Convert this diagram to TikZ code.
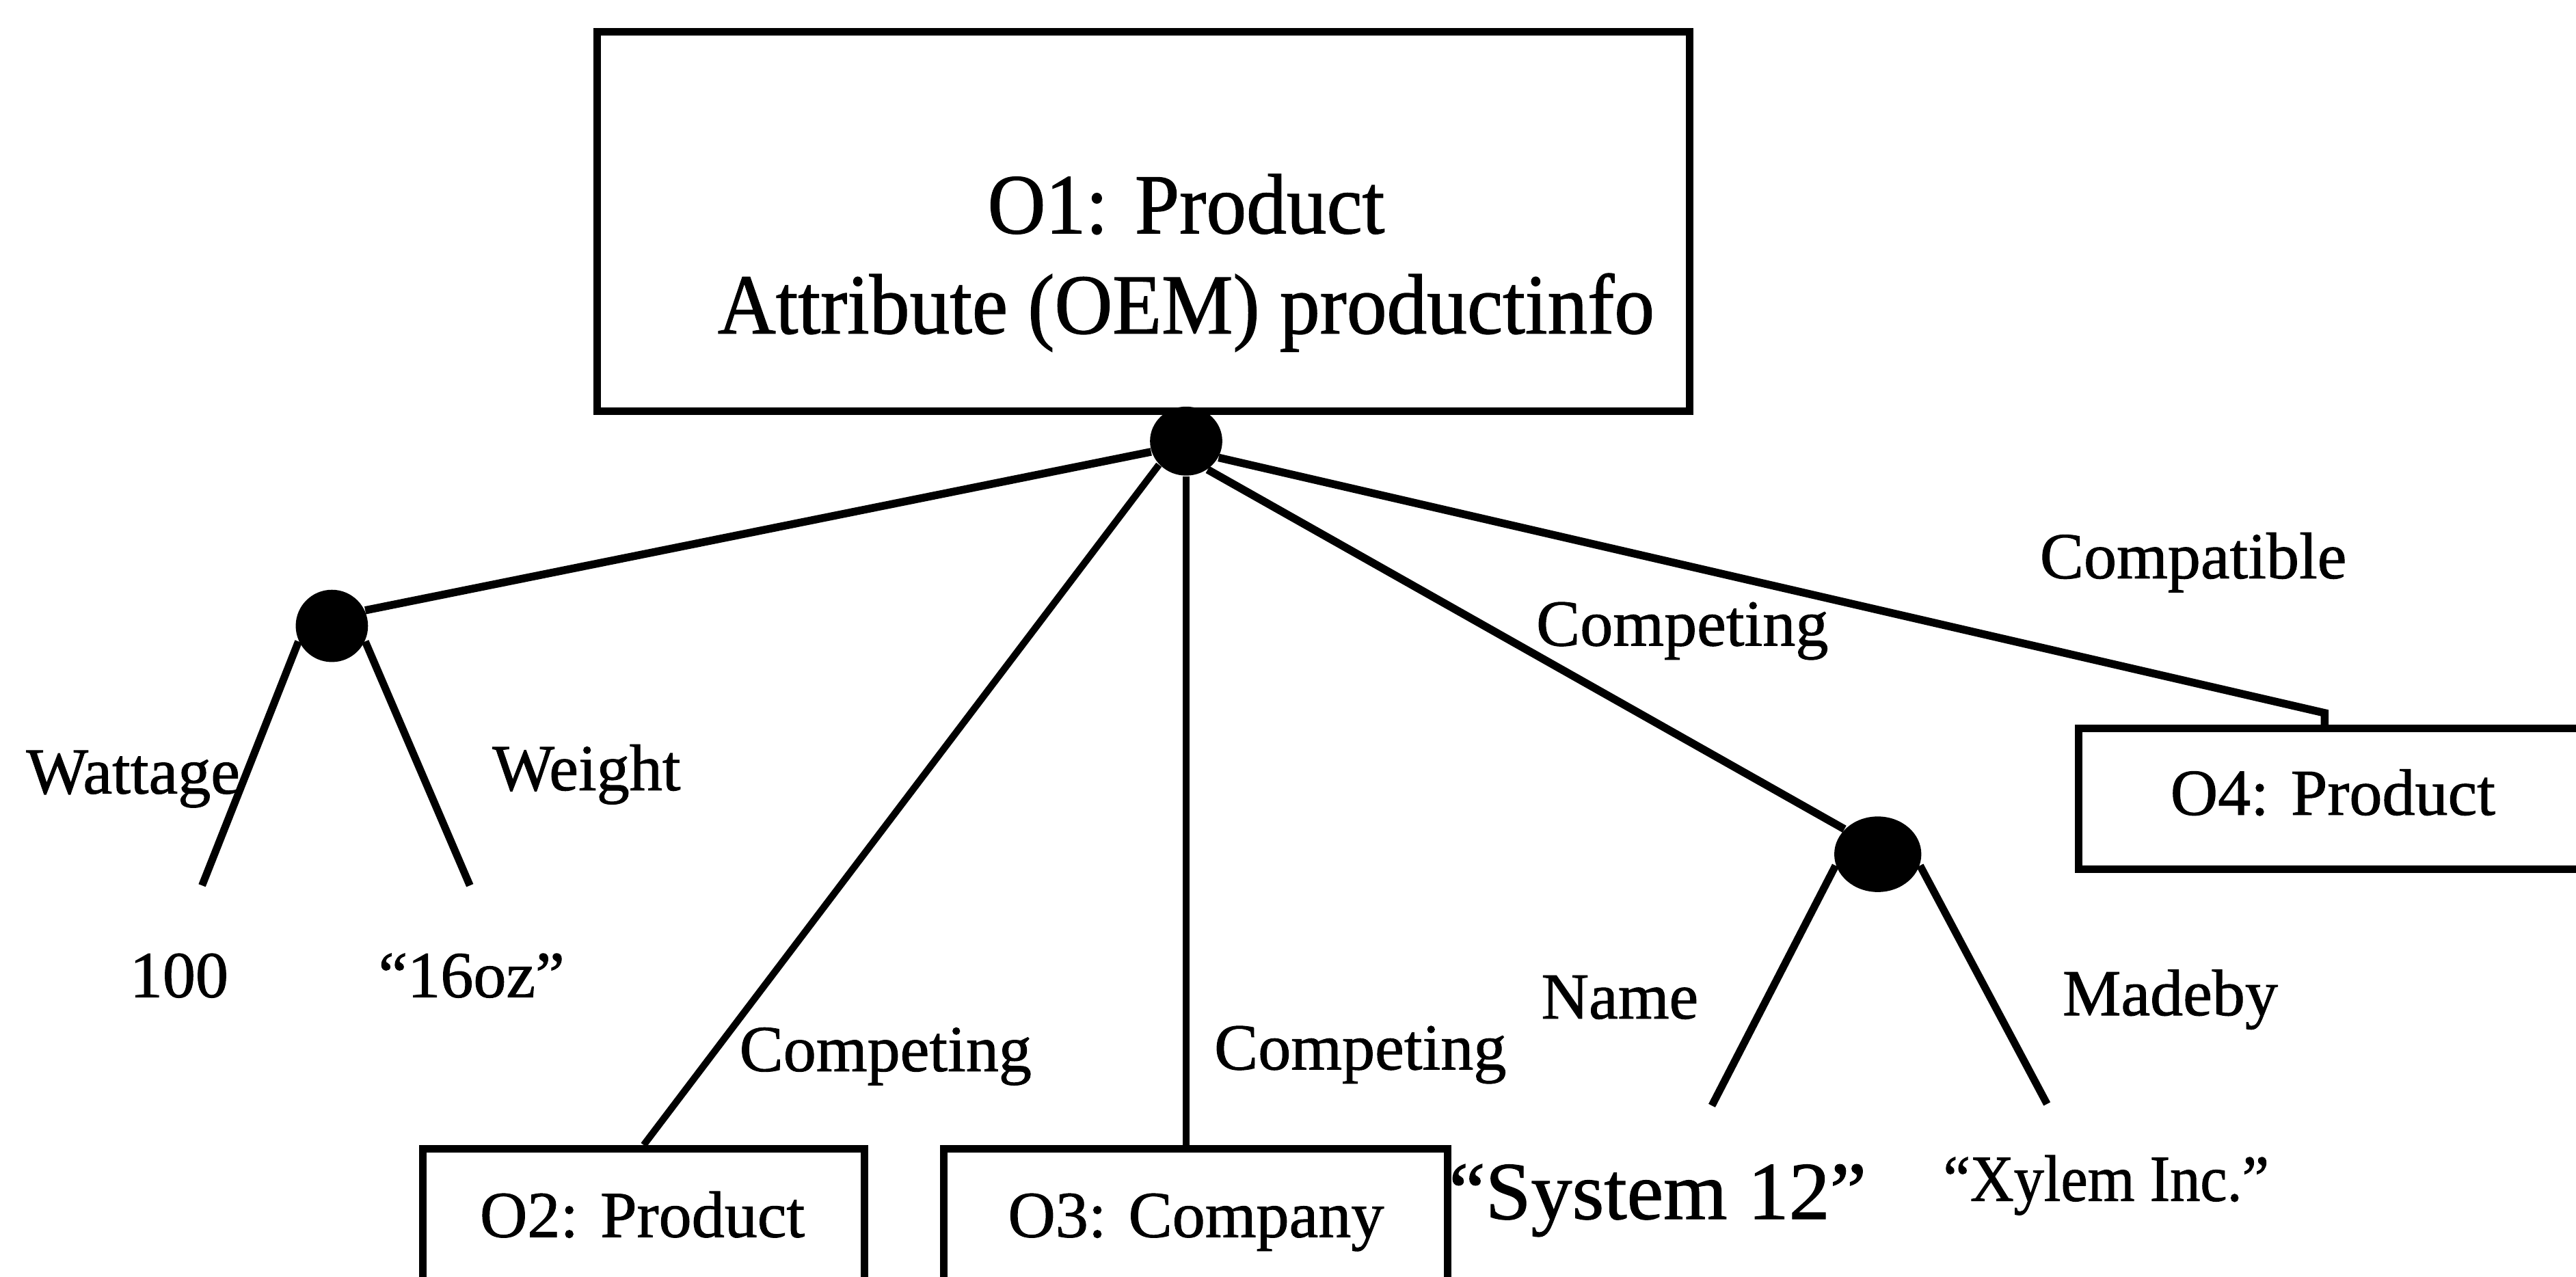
\documentclass[tikz,border=0pt]{standalone}
\usepackage{fontspec}
\setmainfont{Liberation Serif}[RawFeature={embolden=1}]
\newfontfamily\boxfont[FakeStretch=0.94, RawFeature={embolden=1}]{Liberation Serif}
\newfontfamily\narrowfont[FakeStretch=0.92, RawFeature={embolden=1}]{Liberation Serif}
\usetikzlibrary{shapes.geometric}
\tikzset{
  objbox/.style={draw, line width=2.3pt, rectangle, inner sep=0pt, anchor=north west},
  blob/.style={ellipse, fill=black, draw=none, inner sep=0pt},
  lbl/.style={inner sep=0pt, anchor=base, font=\fontsize{20}{24}\selectfont},
  bigtxt/.style={inner sep=0pt, anchor=base, font=\boxfont\fontsize{26}{30}\selectfont},
  edge/.style={line width=2.1pt},
  heavy/.style={line width=2.4pt},
  leaf/.style={line width=2.3pt},
}
\begin{document}
\begin{tikzpicture}[x=0.5pt,y=-0.5pt]
\useasboundingbox (0,0) rectangle (1568,777);
\clip (0,0) rectangle (1568,777);

% object boxes
\node[objbox, minimum width=332.5pt, minimum height=115.5pt] (o1) at (361,17) {};
\node[bigtxt] (o1name) at (722,142) {O1: Product};
\node[bigtxt] (o1attr) at (722,203) {Attribute (OEM) productinfo};

\node[objbox, minimum width=134.5pt, minimum height=60pt] (o2) at (255,697) {};
\node[lbl] (o2name) at (391,753) {O2: Product};

\node[objbox, minimum width=153.5pt, minimum height=60pt] (o3) at (572,697) {};
\node[lbl] (o3name) at (728,753) {O3: Company};

\node[objbox, minimum width=160pt, minimum height=43pt] (o4) at (1263,441) {};
\node[lbl] (o4name) at (1420,496) {O4: Product};

% complex-object dots
\node[blob, minimum width=22pt, minimum height=21pt] (top) at (722,268.5) {};
\node[blob, minimum width=22pt, minimum height=22pt] (ldot) at (202,381) {};
\node[blob, minimum width=26.5pt, minimum height=23pt] (rdot) at (1143,520) {};

% free ends of atomic-value edges
\coordinate (wattEnd) at (123,539);
\coordinate (weightEnd) at (286,539);
\coordinate (nameEnd) at (1042,673);
\coordinate (madeEnd) at (1246,672);
\coordinate (bend) at (1415,434);

% edges
\draw[heavy] (top.197) -- (ldot.25);
\draw[edge] (top.221) -- (o2.north);
\draw[edge] (top.south) -- (top.south |- o3.north);
\draw[heavy] (top.-53) -- (rdot.143);
\draw[heavy] (top.-27) -- (bend) -- (bend |- o4.north);
\draw[leaf] (ldot.205) -- (wattEnd);
\draw[leaf] (ldot.-25) -- (weightEnd);
\draw[leaf] (rdot.195) -- (nameEnd);
\draw[leaf] (rdot.-15) -- (madeEnd);

% edge labels
\node[lbl] (lwatt) at (81,483) {Wattage};
\node[lbl] (lweight) at (357,481) {Weight};
\node[lbl] (lcomp2) at (539,652) {Competing};
\node[lbl] (lcomp3) at (828,651) {Competing};
\node[lbl] (lcompr) at (1024,393) {Competing};
\node[lbl] (lcompat) at (1335,352) {Compatible};
\node[lbl] (lname) at (986,620) {Name};
\node[lbl] (lmade) at (1321,618) {Madeby};

% atomic values
\node[lbl] (v100) at (109,607) {100};
\node[lbl] (v16oz) at (287,607) {“16oz”};
\node[inner sep=0pt, anchor=base, font=\fontsize{25}{30}\selectfont] (vsys) at (1009,742) {“System 12”};
\node[inner sep=0pt, anchor=base, font=\narrowfont\fontsize{20}{24}\selectfont] (vxyl) at (1282,731) {“Xylem Inc.”};
\end{tikzpicture}
\end{document}
